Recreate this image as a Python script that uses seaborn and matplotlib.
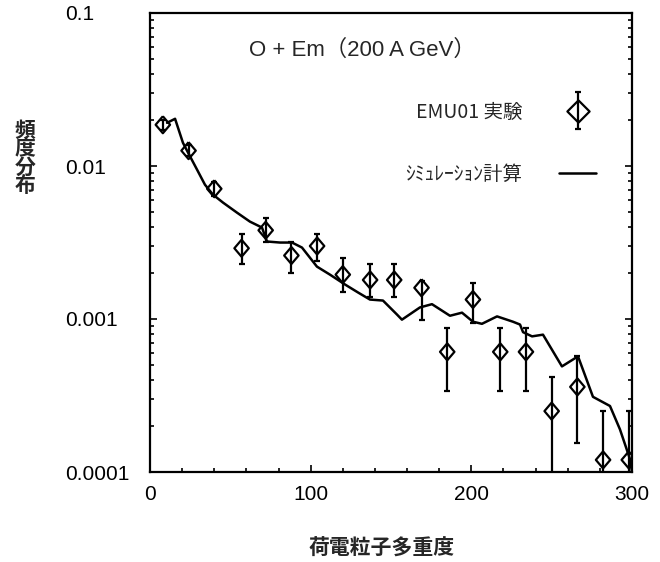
import numpy as np
import pandas as pd
import matplotlib
matplotlib.use("Agg")
import matplotlib.pyplot as plt
from matplotlib.ticker import FixedLocator, LogLocator, NullFormatter, MultipleLocator
from matplotlib.legend_handler import HandlerErrorbar, HandlerTuple
from matplotlib.lines import Line2D
import seaborn as sns

# ---- data ----
exp_x = [8, 24, 40, 57, 72, 88, 104, 120, 137, 152, 169, 185, 201, 218, 234, 250, 266, 282, 298]
exp_y = [0.0186, 0.0126, 0.0071, 0.0029, 0.0038, 0.0026, 0.0030, 0.00195, 0.0018, 0.0018,
         0.0016, 0.00061, 0.00134, 0.00061, 0.00061, 0.00025, 0.00036, 0.00012, 0.00012]
exp_upper = [0.0200, 0.0137, 0.0079, 0.0036, 0.0046, 0.0032, 0.0036, 0.0025, 0.0023, 0.0023,
             0.00176, 0.00087, 0.00173, 0.00087, 0.00087, 0.00042, 0.00057, 0.00025, 0.00025]
exp_lower = [0.0172, 0.0116, 0.0064, 0.0023, 0.0032, 0.0020, 0.0024, 0.0015, 0.0014, 0.0014,
             0.00099, 0.00034, 0.00094, 0.00034, 0.00034, 0.00008, 0.000155, 0.00008, 0.00008]

sim_x = [10.6, 15.6, 20.5, 23.7, 29.3, 34.2, 39.2, 45.4, 54.1, 62.2, 69.7, 72.8, 80.9, 88.4,
         94.6, 103.9, 112.0, 121.4, 129.5, 136.9, 145.0, 153.7, 156.8, 168.0, 175.5, 186.7,
         194.2, 201.0, 206.6, 216.0, 225.9, 230.3, 232.2, 237.8, 244.6, 256.4, 266.4, 275.7,
         286.3, 292.5, 298.8, 300.0]
sim_y = [0.01915, 0.02035, 0.01419, 0.01222, 0.00946, 0.00755, 0.0065, 0.00577, 0.00496,
         0.00433, 0.00396, 0.00321, 0.00316, 0.00316, 0.00293, 0.0022, 0.00195, 0.00168,
         0.00149, 0.00134, 0.00132, 0.00107, 0.00099, 0.00119, 0.00125, 0.00105, 0.0011,
         0.00096, 0.00093, 0.00104, 0.00096, 0.00092, 0.00082, 0.00077, 0.00079, 0.00049,
         0.00057, 0.00031, 0.00027, 0.00019, 0.000121, 0.0001]

x_ticks = [0, 100, 200, 300]
y_ticks = [0.0001, 0.001, 0.01, 0.1]
y_ticklabels = ["0.0001", "0.001", "0.01", "0.1"]

title_text = "O + Em（200 A GeV）"
xlabel_text = "荷電粒子多重度"
ylabel_text = "頻度分布"
exp_label = "EMU01 実験"
sim_label = "ｼﾐｭﾚｰｼｮﾝ計算"

# ---- style ----
sns.set_style("ticks")
plt.rcParams["font.family"] = ["Liberation Sans", "Noto Sans CJK JP", "DejaVu Sans"]
jp = ["Noto Sans CJK JP", "DejaVu Sans"]

W, H = 660, 562
fig = plt.figure(figsize=(W / 100, H / 100), dpi=100)
fig.patch.set_facecolor("white")
L, R, T, B = 150, 632, 13, 472
ax = fig.add_axes([L / W, 1 - B / H, (R - L) / W, (B - T) / H])
ax.set_facecolor("white")

ax.set_yscale("log")
ax.set_xlim(0, 300)
ax.set_ylim(0.0001, 0.1)

sim_df = pd.DataFrame({"x": sim_x, "y": sim_y})
sns.lineplot(data=sim_df, x="x", y="y", ax=ax, color="black", lw=1.8,
             sort=False, estimator=None, legend=False)

ey = np.array(exp_y)
yerr = np.vstack([ey - np.array(exp_lower), np.array(exp_upper) - ey])
diamond = [(0, 1), (0.85, 0), (0, -1), (-0.85, 0), (0, 1)]
eb = ax.errorbar(exp_x, exp_y, yerr=yerr, fmt="none", ecolor="black",
                 elinewidth=1.6, capsize=2.5, capthick=1.6, zorder=3)
sns.scatterplot(x=exp_x, y=exp_y, ax=ax, marker=diamond, s=150, facecolor="none",
                edgecolor="black", linewidth=1.6, zorder=4, legend=False)

# ticks
ax.set_xticks(x_ticks)
ax.xaxis.set_minor_locator(MultipleLocator(20))
ax.yaxis.set_major_locator(FixedLocator(y_ticks))
ax.yaxis.set_minor_locator(LogLocator(base=10, subs=np.arange(2, 10)))
ax.yaxis.set_minor_formatter(NullFormatter())
ax.set_yticklabels(y_ticklabels)
ax.tick_params(axis="both", which="both", direction="in", colors="black",
               labelsize=15, width=1.2)
ax.tick_params(axis="y", which="both", right=True, left=True, pad=61)
ax.tick_params(axis="x", which="major", pad=9)
ax.tick_params(which="major", length=5)
ax.tick_params(which="minor", length=3)
for lab in ax.get_yticklabels():
    lab.set_horizontalalignment("left")
for sp in ax.spines.values():
    sp.set_linewidth(1.6)
    sp.set_color("black")
    sp.set_visible(True)
ax.set_xlabel("")
ax.set_ylabel("")

# legend
sim_handle = Line2D([], [], color="black", lw=1.8)
dia_handle = Line2D([], [], ls="none", marker=[(0, 1), (1, 0), (0, -1), (-1, 0), (0, 1)],
                    markersize=16, mfc="none", mec="black", mew=1.6)
leg = ax.legend([(eb, dia_handle), sim_handle], [exp_label, sim_label], loc="upper right",
                bbox_to_anchor=(606 / W, 1 - 92 / H), bbox_transform=fig.transFigure,
                frameon=False, markerfirst=False, handlelength=1.9, handletextpad=1.9,
                labelspacing=2.1, borderpad=0, prop={"family": jp, "size": 14},
                handler_map={type(eb): HandlerErrorbar(yerr_size=0.95),
                             tuple: HandlerTuple(ndivide=1)})

# title and axis labels
fig.text(362 / W, 1 - 50 / H, title_text, ha="center", va="center", fontsize=16,
         family=["Liberation Sans", "Noto Sans CJK JP"])
fig.text(382 / W, 1 - 548 / H, xlabel_text, ha="center", va="center", fontsize=15,
         family=jp, weight="bold")
fig.text(25 / W, 1 - 158 / H, "\n".join(ylabel_text), ha="center", va="center",
         fontsize=15, family=jp, weight="bold", linespacing=0.85)

fig.savefig("out.png", dpi=100, facecolor="white")
